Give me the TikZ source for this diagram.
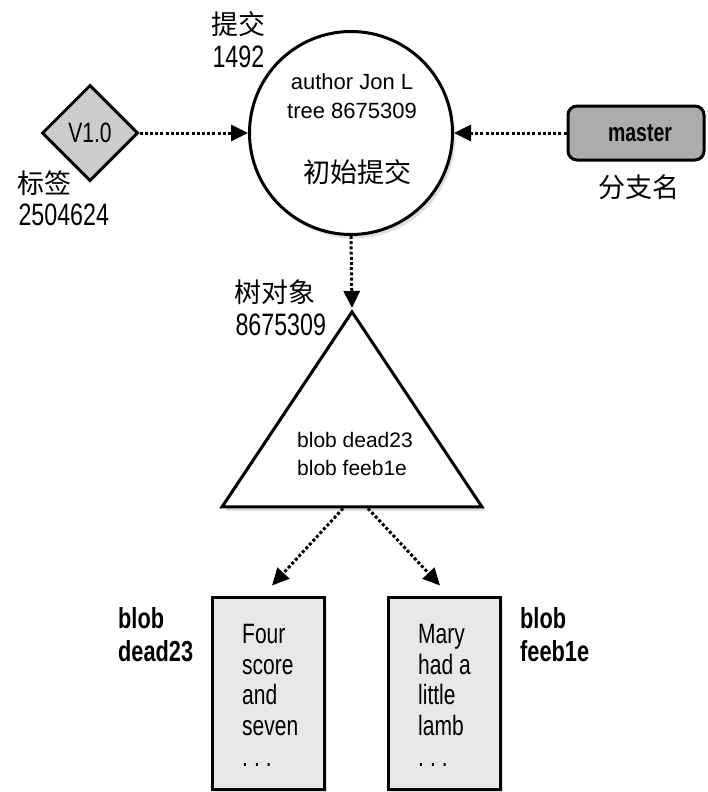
\documentclass[tikz,border=0pt]{standalone}
\usepackage{fontspec}
\setmainfont{Liberation Sans}
\newfontfamily\cjk{Noto Sans CJK SC}
\newfontfamily\idfont{Liberation Sans}[FakeStretch=0.75]
\usetikzlibrary{arrows.meta,shapes.geometric,shadows,positioning}

\begin{document}
\begin{tikzpicture}[x=1pt,y=1pt,
  ptr/.style={line width=3pt,dash pattern=on 3pt off 2.2pt,-{Triangle[length=17pt,width=16pt]}},
  shade/.style={drop shadow={shadow xshift=3pt,shadow yshift=-4pt,opacity=.25}},
  obj/.style={draw,line width=3pt,inner sep=0pt},
  cjklbl/.style={anchor=base west,font=\cjk\fontsize{27}{27}\selectfont},
  idlbl/.style={anchor=base west,font=\idfont\fontsize{31}{31}\selectfont},
  blobtext/.style={anchor=north west,align=left,inner sep=0,font=\idfont\fontsize{28}{30.7}\selectfont},
  bloblbl/.style={anchor=north west,align=left,inner sep=0,font=\idfont\bfseries\fontsize{29}{33}\selectfont}]
\useasboundingbox (0,0) rectangle (707,-792);

  % objects
  \node[obj,circle,fill=white,minimum size=203,shade] (commit) at (351,-133) {};
  \node[obj,diamond,fill=gray!40,minimum width=96,minimum height=96,font=\idfont\fontsize{28}{28}\selectfont] (tag) at (90,-133) {V1.0};
  \node[obj,rounded corners=9pt,fill=gray!65,minimum width=136,minimum height=54,font=\idfont\bfseries\fontsize{26}{26}\selectfont] (branch) at (636,-133) {\hspace{8pt}master};
  \node[obj,isosceles triangle,shape border rotate=90,isosceles triangle stretches,minimum width=260,minimum height=195,fill=white,shade,anchor=apex] (tree) at (352,-308) {};
  \node[obj,fill=gray!18,minimum width=112,minimum height=192,shade] (blobA) at (268,-693) {};
  \node[obj,fill=gray!18,minimum width=112,minimum height=192,shade] (blobB) at (444,-693) {};

  % texts inside
  \node[anchor=north,align=center,inner sep=0,font=\fontsize{22}{29}\selectfont] (commitinfo) at (352,-73) {author Jon L\\tree 8675309};
  \node[anchor=base,font=\cjk\fontsize{27}{27}\selectfont] (commitname) at (357,-182) {初始提交};
  \node[anchor=north,align=left,inner sep=0,font=\fontsize{21}{28}\selectfont] (treeinfo) at (355,-432) {blob dead23\\blob feeb1e};
  \node[blobtext] (blobAtext) at (242,-624) {Four\\score\\and\\seven\\.\hspace{6pt}.\hspace{6pt}.};
  \node[blobtext] (blobBtext) at (418,-624) {Mary\\had a\\little\\lamb\\.\hspace{6pt}.\hspace{6pt}.};

  % labels
  \node[cjklbl] (commitlbl) at (208,-35) {提交};
  \node[idlbl] (commitid) at (209,-67) {1492};
  \node[cjklbl] (taglbl) at (14,-193) {标签};
  \node[idlbl] (tagid) at (15,-225) {2504624};
  \node[anchor=base,font=\cjk\fontsize{27}{27}\selectfont] (branchlbl) at (639,-197) {分支名};
  \node[cjklbl] (treelbl) at (231,-302) {树对象};
  \node[idlbl] (treeid) at (232,-335) {8675309};
  \node[bloblbl] (blobAlbl) at (118,-607) {blob\\dead23};
  \node[bloblbl] (blobBlbl) at (520,-607) {blob\\feeb1e};

  % pointers
  \draw[ptr] (tag.east) -- (commit.west);
  \draw[ptr] (branch.west) -- (commit.east);
  \draw[ptr] (commit.south) -- (tree.apex);
  \draw[ptr] ([xshift=-9pt]tree.south) -- ([xshift=4pt,yshift=10pt]blobA.north);
  \draw[ptr] ([xshift=16pt]tree.south) -- ([xshift=-4pt,yshift=10pt]blobB.north);
\end{tikzpicture}
\end{document}
